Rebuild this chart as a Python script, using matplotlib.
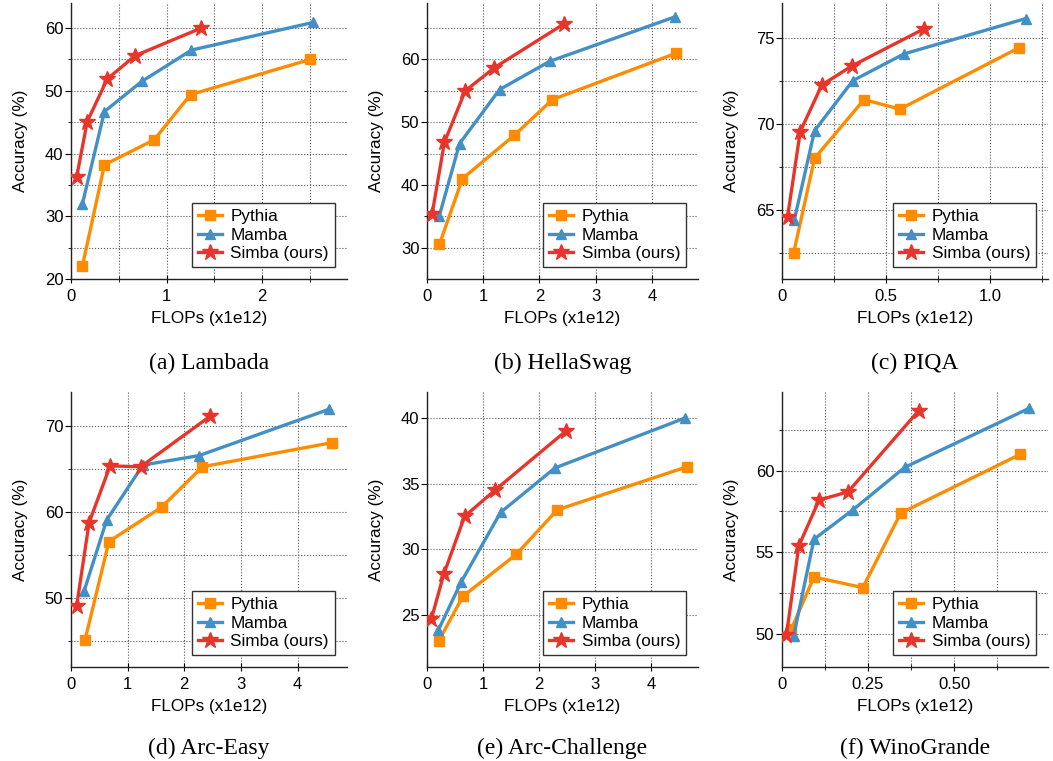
import matplotlib
matplotlib.use("Agg")
import matplotlib.pyplot as plt

plt.rcParams['font.family'] = ['Liberation Sans', 'DejaVu Sans']

titles = ["(a) Lambada", "(b) HellaSwag", "(c) PIQA",
          "(d) Arc-Easy", "(e) Arc-Challenge", "(f) WinoGrande"]
models = ["Pythia", "Mamba", "Simba (ours)"]
colors = ["#ff8c00", "#4390c6", "#e8352b"]
markers = ["s", "^", "*"]

# FLOPs (x1e12) and accuracy (%) per benchmark, per model
lambada_x = [[0.12, 0.35, 0.87, 1.25, 2.50],
             [0.12, 0.35, 0.74, 1.26, 2.53],
             [0.06, 0.17, 0.38, 0.67, 1.36]]
lambada_y = [[22.1, 38.2, 42.2, 49.4, 55.0],
             [32.0, 46.7, 51.5, 56.5, 60.9],
             [36.3, 45.1, 51.9, 55.6, 60.0]]

hellaswag_x = [[0.22, 0.63, 1.55, 2.23, 4.43],
               [0.22, 0.58, 1.29, 2.18, 4.41],
               [0.09, 0.31, 0.68, 1.20, 2.44]]
hellaswag_y = [[30.5, 41.0, 47.9, 53.6, 61.0],
               [35.1, 46.6, 55.2, 59.7, 66.8],
               [35.3, 46.8, 55.0, 58.7, 65.7]]

piqa_x = [[0.056, 0.157, 0.395, 0.568, 1.139],
          [0.059, 0.157, 0.341, 0.587, 1.173],
          [0.027, 0.088, 0.192, 0.336, 0.683]]
piqa_y = [[62.5, 68.0, 71.4, 70.85, 74.4],
          [64.4, 69.6, 72.5, 74.05, 76.1],
          [64.6, 69.55, 72.25, 73.35, 75.5]]

arce_x = [[0.25, 0.67, 1.60, 2.32, 4.60],
          [0.23, 0.63, 1.27, 2.26, 4.56],
          [0.10, 0.32, 0.69, 1.23, 2.46]]
arce_y = [[45.2, 56.6, 60.6, 65.3, 68.1],
          [50.8, 59.1, 65.5, 66.6, 72.0],
          [49.1, 58.8, 65.4, 65.3, 71.2]]

arcc_x = [[0.21, 0.64, 1.59, 2.32, 4.64],
          [0.20, 0.61, 1.31, 2.28, 4.59],
          [0.08, 0.30, 0.67, 1.21, 2.47]]
arcc_y = [[23.0, 26.4, 29.6, 33.0, 36.3],
          [23.8, 27.5, 32.8, 36.2, 40.0],
          [24.7, 28.1, 32.5, 34.5, 39.0]]

wino_x = [[0.027, 0.093, 0.235, 0.345, 0.693],
          [0.034, 0.093, 0.206, 0.357, 0.718],
          [0.013, 0.049, 0.108, 0.192, 0.397]]
wino_y = [[50.3, 53.5, 52.85, 57.4, 61.0],
          [49.9, 55.8, 57.6, 60.2, 63.8],
          [49.95, 55.4, 58.2, 58.7, 63.65]]

all_x = [lambada_x, hellaswag_x, piqa_x, arce_x, arcc_x, wino_x]
all_y = [lambada_y, hellaswag_y, piqa_y, arce_y, arcc_y, wino_y]

# axis setup per panel
xlims = [(0, 2.885), (0, 4.82), (0, 1.28), (0, 4.87), (0, 4.83), (0, 0.773)]
ylims = [(20, 64), (25, 69), (61, 77), (42, 74), (21, 42), (48, 64.8)]
xmaj = [[0, 1, 2], [0, 1, 2, 3, 4], [0, 0.5, 1.0], [0, 1, 2, 3, 4], [0, 1, 2, 3, 4], [0, 0.25, 0.5]]
xlab = [["0", "1", "2"], ["0", "1", "2", "3", "4"], ["0", "0.5", "1.0"],
        ["0", "1", "2", "3", "4"], ["0", "1", "2", "3", "4"], ["0", "0.25", "0.50"]]
xmin = [[0.5, 1.5, 2.5], [], [0.25, 0.75, 1.25], [], [], [0.125, 0.375, 0.625]]
ymaj = [[20, 30, 40, 50, 60], [30, 40, 50, 60], [65, 70, 75], [50, 60, 70],
        [25, 30, 35, 40], [50, 55, 60]]
ymin = [[25, 35, 45, 55], [35, 45, 55, 65], [62.5, 67.5, 72.5], [45, 55, 65],
        [], [52.5, 57.5, 62.5]]

fig = plt.figure(figsize=(10.53, 7.61), dpi=100)
lefts = [0.0674, 0.4055, 0.7426]
widths = [0.262, 0.2574, 0.2526]
bottoms = [0.6334, 0.1235]
heights = [0.3626, 0.3614]
caption_y = [1 - 363 / 761, 1 - 748 / 761]

for i in range(6):
    r, c = divmod(i, 3)
    ax = fig.add_axes([lefts[c], bottoms[r], widths[c], heights[r]])
    for k in range(3):
        ms = 12 if markers[k] == "*" else 7.5
        ax.plot(all_x[i][k], all_y[i][k], color=colors[k], marker=markers[k],
                markersize=ms, linewidth=2.4, label=models[k], zorder=3)
    ax.set_xlim(*xlims[i])
    ax.set_ylim(*ylims[i])
    ax.set_xticks(xmaj[i])
    ax.set_xticklabels(xlab[i])
    ax.set_xticks(xmin[i], minor=True)
    ax.set_yticks(ymaj[i])
    ax.set_yticks(ymin[i], minor=True)
    ax.grid(True, which="both", linestyle=":", color="#555555", linewidth=0.8)
    for s in ["top", "right"]:
        ax.spines[s].set_visible(False)
    for s in ["left", "bottom"]:
        ax.spines[s].set_color("#222222")
        ax.spines[s].set_linewidth(1.0)
    ax.tick_params(axis="y", which="major", direction="out", length=4, labelsize=12, pad=1.5)
    ax.tick_params(axis="y", which="minor", direction="out", length=2.5)
    ax.tick_params(axis="x", which="major", direction="inout", length=6, labelsize=12, pad=4)
    ax.tick_params(axis="x", which="minor", direction="inout", length=4)
    ax.set_xlabel("FLOPs (x1e12)", fontsize=12.3, labelpad=5)
    ax.set_ylabel("Accuracy (%)", fontsize=12.3, labelpad=12)
    leg = ax.legend(loc="lower right", fontsize=12.3, fancybox=False, framealpha=1,
                    edgecolor="#333333", borderaxespad=0.7, handlelength=1.4,
                    handletextpad=0.5, labelspacing=0.2, borderpad=0.35)
    leg.get_frame().set_linewidth(1.0)
    fig.text(lefts[c] + widths[c] / 2, caption_y[r], titles[i],
             ha="center", va="center", fontsize=17,
             family=["Liberation Serif", "DejaVu Serif"])

fig.savefig("out.png", dpi=100)
